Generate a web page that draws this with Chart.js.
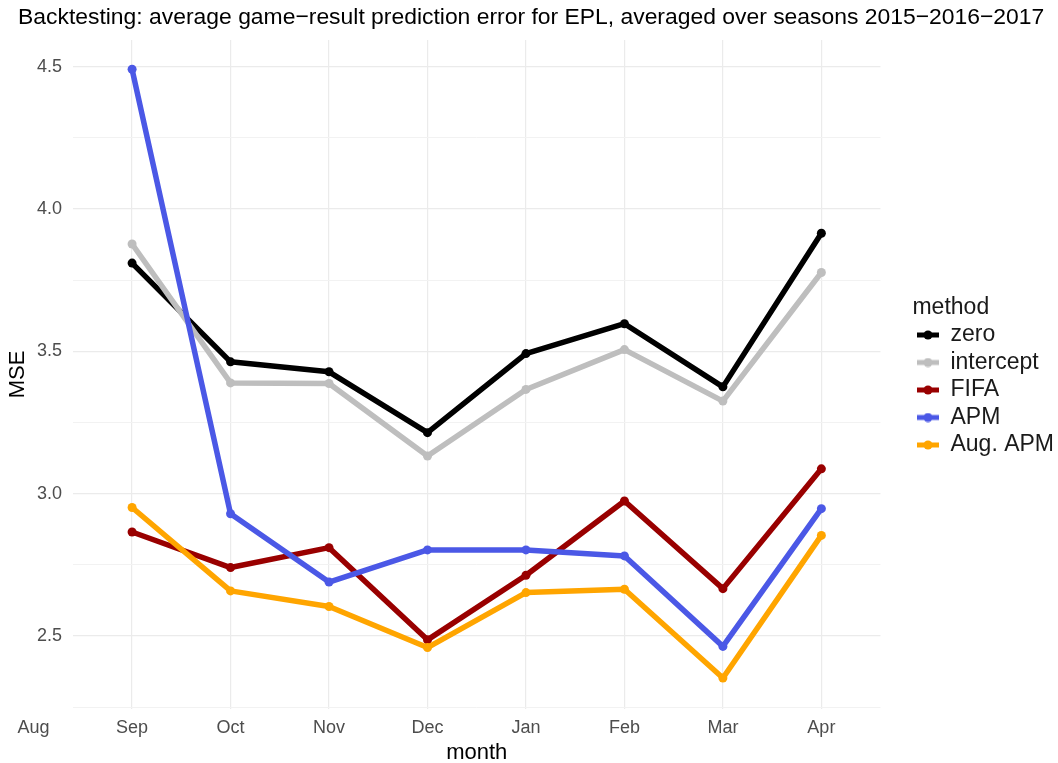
<!DOCTYPE html>
<html>
<head>
<meta charset="utf-8">
<script src="https://cdn.jsdelivr.net/npm/chart.js@4.4.1/dist/chart.umd.min.js"></script>
<style>
  html, body { margin: 0; padding: 0; background: #ffffff; }
  #wrap { position: relative; width: 1058px; height: 763px; }
</style>
</head>
<body>
<div id="wrap"><canvas id="c" width="1058" height="763"></canvas></div>
<script>
// ---- data ----
const monthLabels = ['Aug', 'Sep', 'Oct', 'Nov', 'Dec', 'Jan', 'Feb', 'Mar', 'Apr'];
const dataMonths = ['Sep', 'Oct', 'Nov', 'Dec', 'Jan', 'Feb', 'Mar', 'Apr'];
const zero      = [3.810, 3.463, 3.428, 3.214, 3.492, 3.597, 3.375, 3.915];
const intercept = [3.877, 3.389, 3.387, 3.132, 3.366, 3.506, 3.325, 3.777];
const fifa      = [2.865, 2.740, 2.810, 2.486, 2.713, 2.974, 2.666, 3.087];
const apm       = [4.491, 2.929, 2.689, 2.802, 2.802, 2.781, 2.463, 2.947];
const augApm    = [2.951, 2.658, 2.603, 2.459, 2.652, 2.664, 2.352, 2.853];
const seriesNames = ['zero', 'intercept', 'FIFA', 'APM', 'Aug. APM'];
const seriesColors = ['#000000', '#bebebe', '#990000', '#4b58e6', '#ffa500'];
const yMajorTicks = [2.5, 3.0, 3.5, 4.0, 4.5];
const yMajorLabels = ['2.5', '3.0', '3.5', '4.0', '4.5'];
const yMinorTicks = [2.25, 2.75, 3.25, 3.75, 4.25];
const titleText = 'Backtesting: average game\u2212result prediction error for EPL, averaged over seasons 2015\u22122016\u22122017';

const FONT = "'Liberation Sans', Arial, Helvetica, sans-serif";

function legendSymbol(color) {
  const cv = document.createElement('canvas');
  cv.width = 24; cv.height = 10;
  const g = cv.getContext('2d');
  g.strokeStyle = color; g.lineWidth = 5; g.lineCap = 'butt';
  g.beginPath(); g.moveTo(1, 5); g.lineTo(23, 5); g.stroke();
  g.fillStyle = color;
  g.beginPath(); g.arc(12, 5, 4.5, 0, Math.PI * 2); g.fill();
  return cv;
}

const allSeries = [zero, intercept, fifa, apm, augApm];
const datasets = allSeries.map((vals, i) => ({
  label: seriesNames[i],
  data: vals.map((v, j) => ({ x: monthLabels.indexOf(dataMonths[j]), y: v })),
  borderColor: seriesColors[i],
  backgroundColor: seriesColors[i],
  pointBackgroundColor: seriesColors[i],
  pointBorderWidth: 0,
  pointRadius: 4.5,
  pointHoverRadius: 4.5,
  borderWidth: 5.5,
  borderJoinStyle: 'round',
  pointStyle: 'circle',
  _legendSym: legendSymbol(seriesColors[i]),
  order: allSeries.length - i,
  tension: 0
}));

new Chart(document.getElementById('c'), {
  type: 'line',
  data: { datasets },
  options: {
    responsive: false,
    animation: false,
    layout: { padding: { left: 18, right: -6, top: 0, bottom: 0 } },
    plugins: {
      title: {
        display: true,
        text: titleText,
        align: 'start',
        color: '#000000',
        font: { family: FONT, size: 22.9, weight: 'normal', lineHeight: 1.2 },
        padding: { top: 4, bottom: 8.5 }
      },
      legend: {
        position: 'right',
        align: 'start',
        title: {
          display: true,
          text: 'method',
          position: 'start',
          color: '#1a1a1a',
          font: { family: FONT, size: 23, lineHeight: 1.0 },
          padding: { top: 296, bottom: 0 }
        },
        labels: {
          usePointStyle: true,
          pointStyleWidth: 22,
          boxHeight: 23,
          padding: 4.5,
          color: '#000000',
          font: { family: FONT, size: 23 },
          generateLabels: (chart) => chart.data.datasets.map((d, i) => ({
            text: d.label,
            fillStyle: d.borderColor,
            strokeStyle: d.borderColor,
            lineWidth: 0,
            pointStyle: d._legendSym,
            datasetIndex: i,
            hidden: false
          }))
        }
      },
      tooltip: { enabled: false }
    },
    scales: {
      x: {
        type: 'linear',
        min: 0.4,
        max: 8.6,
        afterBuildTicks: (s) => { s.ticks = monthLabels.map((m, i) => ({ value: i })); },
        afterFit: (s) => { s.height = 54; },
        ticks: {
          autoSkip: false,
          maxRotation: 0,
          padding: 8,
          color: '#4d4d4d',
          font: { family: FONT, size: 18 },
          callback: (v) => monthLabels[v] !== undefined ? monthLabels[v] : ''
        },
        grid: {
          drawTicks: false,
          color: (ctx) => (ctx.tick && ctx.tick.value === 0) ? 'rgba(0,0,0,0)' : '#ebebeb',
          lineWidth: 1.2
        },
        border: { display: false },
        title: {
          display: true,
          text: 'month',
          color: '#000000',
          font: { family: FONT, size: 22 },
          padding: { top: 0, bottom: -3 }
        }
      },
      y: {
        type: 'linear',
        min: 2.243,
        max: 4.594,
        afterBuildTicks: (s) => {
          s.ticks = yMinorTicks.concat(yMajorTicks).sort((a, b) => a - b).map(v => ({ value: v }));
        },
        afterFit: (s) => { s.width = 55; },
        ticks: {
          padding: 11,
          color: '#4d4d4d',
          font: { family: FONT, size: 18 },
          callback: (v) => {
            const k = yMajorTicks.findIndex(t => Math.abs(t - v) < 1e-9);
            return k >= 0 ? yMajorLabels[k] : '';
          }
        },
        grid: {
          drawTicks: false,
          color: (ctx) => {
            const v = ctx.tick ? ctx.tick.value : null;
            return yMajorTicks.some(t => Math.abs(t - v) < 1e-9) ? '#ebebeb' : '#f2f2f2';
          },
          lineWidth: (ctx) => {
            const v = ctx.tick ? ctx.tick.value : null;
            return yMajorTicks.some(t => Math.abs(t - v) < 1e-9) ? 1.2 : 1.0;
          }
        },
        border: { display: false },
        title: {
          display: true,
          text: 'MSE',
          color: '#000000',
          font: { family: FONT, size: 22 },
          padding: { top: -13, bottom: 0 }
        }
      },
      y2: {
        position: 'right',
        display: true,
        afterFit: (s) => { s.width = 32; },
        grid: { display: false, drawTicks: false },
        ticks: { display: false },
        border: { display: false }
      }
    }
  }
});
</script>
</body>
</html>
